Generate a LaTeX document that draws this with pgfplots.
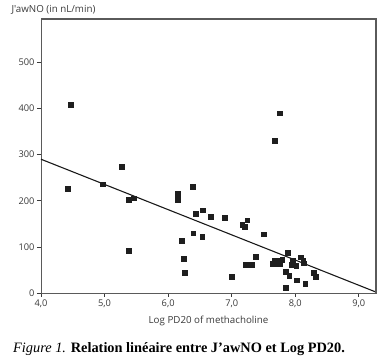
\documentclass[border=0pt]{standalone}
\usepackage{pgfplots}
\pgfplotsset{compat=1.18}
\usepackage{fontspec}
\setmainfont{Liberation Serif}
\newfontfamily\labfont{Open Sans}
\definecolor{axgray}{HTML}{5A5A5A}
\definecolor{txtgray}{HTML}{3A3A3A}
\definecolor{mk}{HTML}{1E1E1E}
\begin{document}
\begin{tikzpicture}
\path[use as bounding box] (-41bp,-70bp) rectangle (346bp,293bp);
\begin{axis}[
  at={(0bp,0bp)}, anchor=south west,
  scale only axis,
  width=335bp, height=274bp,
  xmin=4.0, xmax=9.27, ymin=0, ymax=594,
  axis lines=box,
  axis line style={axgray, line width=1pt},
  xtick={4,5,6,7,8,9},
  ytick={0,100,200,300,400,500},
  xtick pos=bottom, ytick pos=left,
  tick align=outside,
  major tick length=4bp,
  tick style={txtgray, line width=0.7pt},
  x tick label style={/pgf/number format/use comma, /pgf/number format/fixed, /pgf/number format/fixed zerofill, /pgf/number format/precision=1, /pgf/number format/assume math mode=true, yshift=1bp},
  y tick label style={/pgf/number format/assume math mode=true, xshift=1bp},
  tick label style={font=\labfont\fontsize{9.3}{11}\selectfont, text=txtgray},
  xlabel={Log PD20 of methacholine},
  xlabel style={font=\labfont\fontsize{9.8}{11}\selectfont, text=txtgray, at={(axis description cs:0.5,-0.102)}, anchor=center},
  ylabel={J'awNO (in nL/min)},
  ylabel style={font=\labfont\fontsize{9.8}{11}\selectfont, text=txtgray, rotate=-90, at={(axis description cs:-0.0985,1.033)}, anchor=west},
  clip=false,
]
\addplot[only marks, mark=square*, mark size=2.4bp, mark options={fill=mk, draw=mk, line width=0pt}] coordinates {
(4.47,407) (4.42,225) (4.97,235) (5.28,274) (5.38,201) (5.46,205) (5.38,91)
(6.16,214) (6.16,201) (6.39,229) (6.44,172) (6.55,179) (6.68,164) (6.90,162)
(7.17,147) (7.21,143) (7.25,157) (7.51,127) (6.22,113) (6.40,129) (6.54,121)
(6.25,74) (6.26,44) (7.01,35) (7.22,60) (7.32,60) (7.38,78)
(7.76,389) (7.68,330)
(7.89,87) (7.65,63) (7.68,70) (7.72,70) (7.76,63) (7.80,71) (7.72,62)
(7.94,61) (7.96,70) (8.02,59) (8.09,77) (8.14,64) (8.13,70)
(7.86,46) (7.91,37) (8.03,27) (8.16,19) (7.85,10) (8.29,43) (8.32,35)
};
\addplot[black!90, line width=1.1pt] coordinates {(4.0,290) (9.27,2)};
\end{axis}
\draw[axgray, line width=1.4pt] (0bp,274bp) -- (335bp,274bp) -- (335bp,0bp);
\node[anchor=west, inner sep=0pt, font=\fontsize{14.4}{16}\selectfont\bfseries] at (-28bp,-56bp) {\textit{\mdseries Figure 1.} Relation linéaire entre J’awNO et Log PD20.};
\end{tikzpicture}
\end{document}
